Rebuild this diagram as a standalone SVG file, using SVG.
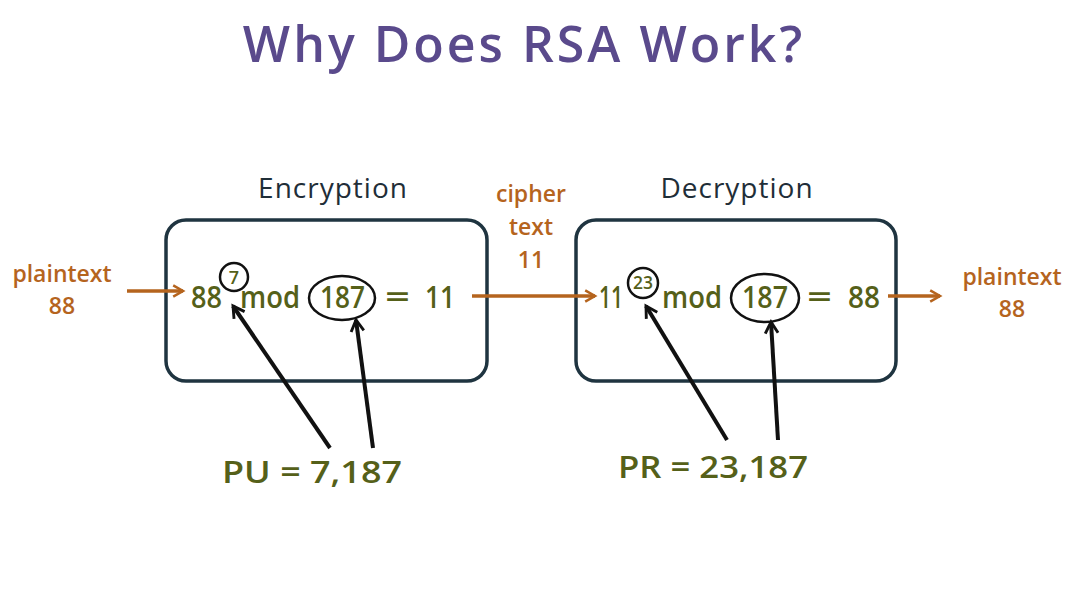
<svg xmlns="http://www.w3.org/2000/svg" width="1088" height="590" viewBox="0 0 1088 590">
<defs>
<style>
.title{font-family:"Open Sans",sans-serif;font-size:50px;fill:#5a4a8c;font-weight:600;letter-spacing:3px}
.lbl{font-family:"Open Sans",sans-serif;font-size:28px;fill:#1f2e38;letter-spacing:1px}
.or{font-family:"Open Sans",sans-serif;font-size:23px;fill:#b5641e;font-weight:600}
.eq{font-family:"Open Sans",sans-serif;font-size:31px;fill:#556019;font-weight:600}
.sup{font-family:"Open Sans",sans-serif;font-size:18px;fill:#556019;font-weight:600}
.box{fill:none;stroke:#1f3440;stroke-width:3.5}
.ring{fill:none;stroke:#111;stroke-width:2.5}
.oa{stroke:#b5641e;stroke-width:3.5;fill:none}
.ba{stroke:#111;stroke-width:4;fill:none}
</style>
<marker id="ho" viewBox="0 0 10 10" refX="8" refY="5" markerWidth="4" markerHeight="4" orient="auto" markerUnits="strokeWidth"><path d="M1,1 L8,5 L1,9" fill="none" stroke="#b5641e" stroke-width="1.8"/></marker>
<marker id="hb" viewBox="0 0 10 10" refX="8" refY="5" markerWidth="4" markerHeight="4" orient="auto" markerUnits="strokeWidth"><path d="M1,1 L8,5 L1,9" fill="none" stroke="#111" stroke-width="1.8"/></marker>
</defs>
<text class="title" x="524" y="62" text-anchor="middle">Why Does RSA Work?</text>

<g id="encryption">
<rect class="box" x="166" y="220" width="321" height="161" rx="20"/>
<text class="lbl" x="333" y="198" text-anchor="middle">Encryption</text>
<text class="eq" x="191" y="308" textLength="31" lengthAdjust="spacingAndGlyphs">88</text>
<circle class="ring" cx="234" cy="277" r="14"/>
<text class="sup" x="234" y="284" text-anchor="middle">7</text>
<text class="eq" x="240" y="308" textLength="60" lengthAdjust="spacingAndGlyphs">mod</text>
<ellipse class="ring" cx="342" cy="298" rx="33" ry="22"/>
<text class="eq" x="320" y="308" textLength="45" lengthAdjust="spacingAndGlyphs">187</text>
<text class="eq" x="385" y="308" textLength="25" lengthAdjust="spacingAndGlyphs">=</text>
<text class="eq" x="425" y="308" textLength="30" lengthAdjust="spacingAndGlyphs">11</text>
</g>

<g id="decryption">
<rect class="box" x="576" y="220" width="320" height="161" rx="20"/>
<text class="lbl" x="737" y="198" text-anchor="middle">Decryption</text>
<text class="eq" x="599" y="308" textLength="24" lengthAdjust="spacingAndGlyphs">11</text>
<circle class="ring" cx="643" cy="283" r="15"/>
<text class="sup" x="643" y="289" text-anchor="middle" textLength="20" lengthAdjust="spacingAndGlyphs">23</text>
<text class="eq" x="662" y="308" textLength="60" lengthAdjust="spacingAndGlyphs">mod</text>
<ellipse class="ring" cx="765" cy="298" rx="34" ry="24"/>
<text class="eq" x="742" y="308" textLength="46" lengthAdjust="spacingAndGlyphs">187</text>
<text class="eq" x="807" y="308" textLength="25" lengthAdjust="spacingAndGlyphs">=</text>
<text class="eq" x="848" y="308" textLength="32" lengthAdjust="spacingAndGlyphs">88</text>
</g>

<g id="plaintext-in">
<text class="or" x="62" y="282" text-anchor="middle">plaintext</text>
<text class="or" x="62" y="314" text-anchor="middle">88</text>
</g>
<g id="ciphertext">
<text class="or" x="531" y="202" text-anchor="middle">cipher</text>
<text class="or" x="531" y="235" text-anchor="middle">text</text>
<text class="or" x="531" y="268" text-anchor="middle">11</text>
</g>
<g id="plaintext-out">
<text class="or" x="1012" y="285" text-anchor="middle">plaintext</text>
<text class="or" x="1012" y="317" text-anchor="middle">88</text>
</g>
<g id="pu">
<text class="eq" x="222" y="483" textLength="180" lengthAdjust="spacingAndGlyphs">PU = 7,187</text>
</g>
<g id="pr">
<text class="eq" x="618" y="478" textLength="190" lengthAdjust="spacingAndGlyphs">PR = 23,187</text>
</g>

<g id="connectors">
<line class="oa" x1="127" y1="291" x2="183" y2="291" marker-end="url(#ho)"/>
<line class="oa" x1="472" y1="296" x2="595" y2="296" marker-end="url(#ho)"/>
<line class="oa" x1="888" y1="296" x2="940" y2="296" marker-end="url(#ho)"/>
<line class="ba" x1="330" y1="448" x2="233" y2="306" marker-end="url(#hb)"/>
<line class="ba" x1="373" y1="448" x2="356" y2="320" marker-end="url(#hb)"/>
<line class="ba" x1="727" y1="440" x2="646" y2="306" marker-end="url(#hb)"/>
<line class="ba" x1="778" y1="440" x2="771" y2="322" marker-end="url(#hb)"/>
</g>
</svg>
